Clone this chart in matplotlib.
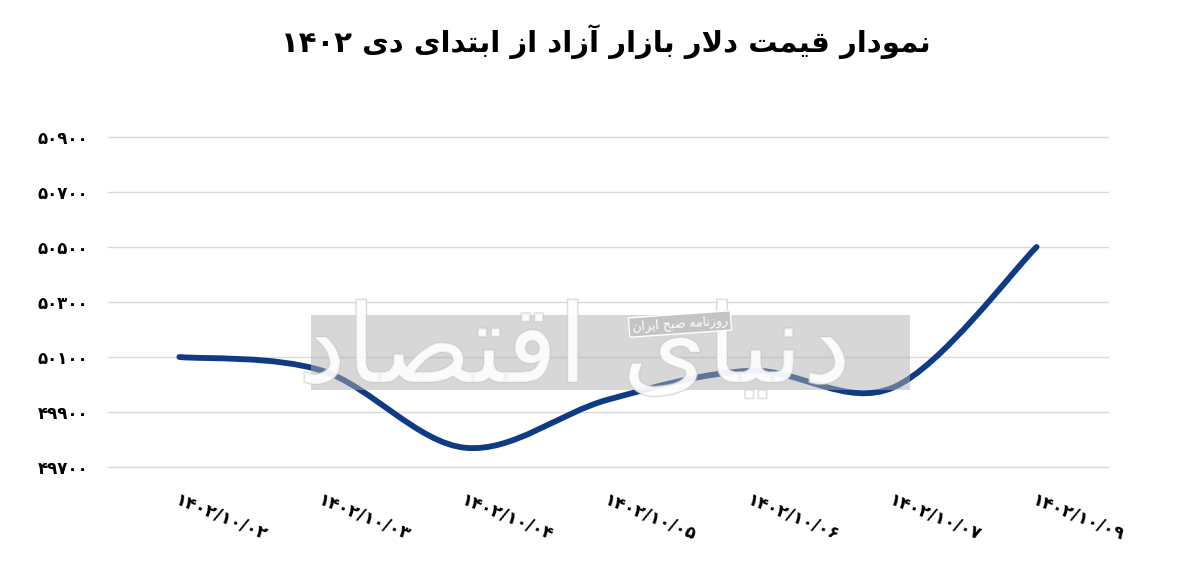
import re
import matplotlib
matplotlib.use("Agg")
import matplotlib.pyplot as plt
from matplotlib.path import Path
from matplotlib.patches import PathPatch, Rectangle
import matplotlib.patheffects as pe

# ---------------- data ----------------
dates = ['۱۴۰۲/۱۰/۰۲', '۱۴۰۲/۱۰/۰۳', '۱۴۰۲/۱۰/۰۴', '۱۴۰۲/۱۰/۰۵',
         '۱۴۰۲/۱۰/۰۶', '۱۴۰۲/۱۰/۰۷', '۱۴۰۲/۱۰/۰۹']
prices = [50100, 50050, 49770, 49945, 50050, 49990, 50500]
yticks = [49700, 49900, 50100, 50300, 50500, 50700, 50900]
title = 'نمودار قیمت دلار بازار آزاد از ابتدای دی ۱۴۰۲'
wm_big = 'دنیای اقتصاد'
wm_small = 'روزنامه صبح ایران'

# ---------------- simple Persian shaping ----------------
FORMS = {
    'ا': ('\uFE8D', '\uFE8E', None, None),
    'آ': ('\uFE81', '\uFE82', None, None),
    'ب': ('\uFE8F', '\uFE90', '\uFE91', '\uFE92'),
    'ت': ('\uFE95', '\uFE96', '\uFE97', '\uFE98'),
    'ح': ('\uFEA1', '\uFEA2', '\uFEA3', '\uFEA4'),
    'د': ('\uFEA9', '\uFEAA', None, None),
    'ر': ('\uFEAD', '\uFEAE', None, None),
    'ز': ('\uFEAF', '\uFEB0', None, None),
    'ص': ('\uFEB9', '\uFEBA', '\uFEBB', '\uFEBC'),
    'ق': ('\uFED5', '\uFED6', '\uFED7', '\uFED8'),
    'ل': ('\uFEDD', '\uFEDE', '\uFEDF', '\uFEE0'),
    'م': ('\uFEE1', '\uFEE2', '\uFEE3', '\uFEE4'),
    'ن': ('\uFEE5', '\uFEE6', '\uFEE7', '\uFEE8'),
    'ه': ('\uFEE9', '\uFEEA', '\uFEEB', '\uFEEC'),
    'و': ('\uFEED', '\uFEEE', None, None),
    'ی': ('\uFBFC', '\uFBFD', '\uFBFE', '\uFBFF'),
}


def shape(text):
    chars = []
    i = 0
    while i < len(text):
        c = text[i]
        if c == 'ل' and i + 1 < len(text) and text[i + 1] in 'اآ':
            if text[i + 1] == 'ا':
                chars.append(('\uFEFB', '\uFEFC', None, None))
            else:
                chars.append(('\uFEF5', '\uFEF6', None, None))
            i += 2
            continue
        chars.append(FORMS.get(c, c))
        i += 1
    out = []
    for k, f in enumerate(chars):
        if isinstance(f, str):
            out.append(f)
            continue
        prev = chars[k - 1] if k > 0 else None
        nxt = chars[k + 1] if k + 1 < len(chars) else None
        jp = isinstance(prev, tuple) and prev[2] is not None
        jn = f[2] is not None and isinstance(nxt, tuple)
        if jp and jn:
            out.append(f[3])
        elif jp:
            out.append(f[1])
        elif jn:
            out.append(f[2])
        else:
            out.append(f[0])
    s = ''.join(out)[::-1]
    s = re.sub(r'[\u06F0-\u06F90-9/]+', lambda m: m.group(0)[::-1], s)
    return s


FA = str.maketrans('0123456789', '۰۱۲۳۴۵۶۷۸۹')

plt.rcParams['font.family'] = ['DejaVu Sans']

fig = plt.figure(figsize=(12, 5.76), dpi=100)
ax = fig.add_axes([108 / 1200, 1 - 467 / 576, 1000 / 1200, 330 / 576])

# smoothed line (Excel-style Bezier through the data points)
n = len(prices)
pts = list(zip(range(n), prices))
verts = [pts[0]]
codes = [Path.MOVETO]
for i in range(n - 1):
    p0 = pts[i - 1] if i > 0 else pts[i]
    p1 = pts[i]
    p2 = pts[i + 1]
    p3 = pts[i + 2] if i + 2 < n else pts[i + 1]
    c1 = (p1[0] + (p2[0] - p0[0]) / 6, p1[1] + (p2[1] - p0[1]) / 6)
    c2 = (p2[0] - (p3[0] - p1[0]) / 6, p2[1] - (p3[1] - p1[1]) / 6)
    verts += [c1, c2, p2]
    codes += [Path.CURVE4] * 3
ax.add_patch(PathPatch(Path(verts, codes), facecolor='none',
                       edgecolor='#0E3B84', lw=4.2, capstyle='round',
                       joinstyle='round', zorder=3))

ax.set_xlim(-0.5, n - 0.5)
ax.set_ylim(yticks[0], yticks[-1])
ax.set_yticks(yticks)
ax.set_yticklabels([str(v).translate(FA) for v in yticks],
                   fontsize=12, fontweight='bold')
ax.set_xticks(range(n))
ax.set_xticklabels(dates, rotation=-22, ha='left', va='top',
                   rotation_mode='anchor', fontsize=12.5, fontweight='bold')
ax.tick_params(axis='both', length=0)
ax.tick_params(axis='y', pad=14)
ax.tick_params(axis='x', pad=17)
ax.grid(axis='y', color='#D9D9D9', lw=1)
for gl in ax.get_ygridlines():
    gl.set_clip_on(False)
ax.set_axisbelow(True)
for s in ax.spines.values():
    s.set_visible(False)

# title
fig.text(0.505, 1 - 42 / 576, shape(title), ha='center', va='center',
         fontsize=21, fontweight='bold')

# watermark
fig.add_artist(Rectangle((311 / 1200, 1 - 390 / 576), 599 / 1200, 75 / 576,
                         transform=fig.transFigure, facecolor='#B0B0B0',
                         alpha=0.5, edgecolor='none', zorder=5))
fig.text(575 / 1200, 1 - 352 / 576, shape(wm_big), ha='center', va='center',
         fontsize=78, color='white', alpha=0.7, zorder=6,
         path_effects=[pe.withStroke(linewidth=1.5, foreground='#C8C8C8')])
fig.text(680 / 1200, 1 - 324 / 576, shape(wm_small), ha='center',
         va='center', fontsize=9, color='white', rotation=4, zorder=7,
         bbox=dict(boxstyle='square,pad=0.25', facecolor='#C4C4C4',
                   edgecolor='white', lw=1))

fig.savefig('out.png', dpi=100)
